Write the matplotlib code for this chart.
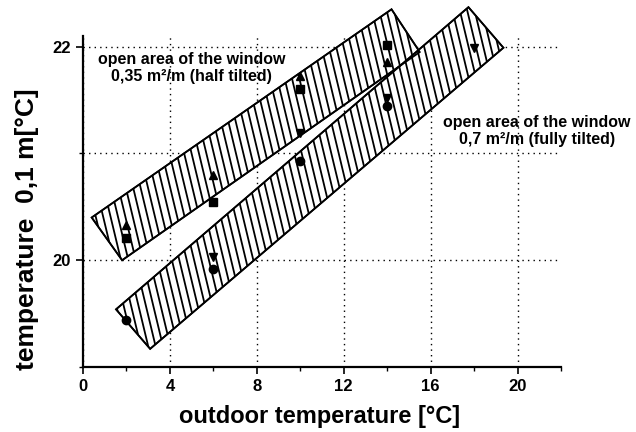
import numpy as np
import matplotlib
matplotlib.use("Agg")
import matplotlib.pyplot as plt
from matplotlib.patches import Polygon
from matplotlib.lines import Line2D
from matplotlib.ticker import MultipleLocator
from matplotlib.transforms import IdentityTransform

plt.rcParams['font.family'] = ['Liberation Sans', 'DejaVu Sans']
plt.rcParams['font.weight'] = 'bold'

# data
x_half = [2, 6, 10, 14]
half_square = [20.21, 20.55, 21.60, 22.02]
half_triangle = [20.33, 20.80, 21.73, 21.86]
x_full_circle = [2, 6, 10, 14]
full_circle = [19.44, 19.92, 20.93, 21.44]
x_full_tri = [6, 10, 14, 18]
full_triangle_down = [20.03, 21.19, 21.52, 21.99]

band_half_x = [0.4, 1.8, 15.5, 14.2]
band_half_y = [20.40, 20.00, 21.95, 22.35]
band_full_x = [1.52, 3.09, 19.35, 17.74]
band_full_y = [19.54, 19.17, 21.99, 22.37]

x_ticks = [0, 4, 8, 12, 16, 20]
y_ticks = [20, 22]

fig = plt.figure(figsize=(6.36, 4.32), dpi=100)
ax = fig.add_axes([83/636, 1-367/432, (561-83)/636, (367-36)/432])
ax.set_xlim(0, 22)
ax.set_ylim(19.0, 22.1)

for s in ['top', 'right']:
    ax.spines[s].set_visible(False)
for s in ['left', 'bottom']:
    ax.spines[s].set_linewidth(1.6)

ax.set_xticks(x_ticks)
ax.set_yticks(y_ticks)
ax.xaxis.set_minor_locator(MultipleLocator(2))
ax.yaxis.set_minor_locator(MultipleLocator(1))
ax.tick_params(which='major', length=5, width=1.2, labelsize=12, direction='out')
ax.tick_params(which='minor', length=3, width=1.0, direction='out')
for lab in ax.get_xticklabels() + ax.get_yticklabels():
    lab.set_fontweight('bold')

ax.grid(True, which='major', axis='x', color='black', linestyle=(0, (1, 3)), linewidth=1.0)
ax.grid(True, which='both', axis='y', color='black', linestyle=(0, (1, 3)), linewidth=1.0)
ax.set_axisbelow(True)

fig.canvas.draw()

def hatched_band(xs, ys):
    poly = Polygon(np.column_stack([xs, ys]), closed=True, facecolor='white',
                   edgecolor='black', linewidth=1.2, clip_on=False, zorder=2)
    ax.add_patch(poly)
    disp = ax.transData.transform(np.column_stack([xs, ys]))
    ymin, ymax = disp[:, 1].min() - 5, disp[:, 1].max() + 5
    xmin, xmax = disp[:, 0].min() - 60, disp[:, 0].max() + 60
    slant = 0.24
    for c in np.arange(xmin, xmax, 7.4):
        ln = Line2D([c + slant * (ymax - ymin) / 2, c - slant * (ymax - ymin) / 2],
                    [ymin, ymax], transform=IdentityTransform(), color='black',
                    linewidth=1.3, zorder=2.5)
        ln.set_clip_path(poly)
        fig.add_artist(ln)
    outline = Polygon(np.column_stack([xs, ys]), closed=True, facecolor='none',
                      edgecolor='black', linewidth=1.3, clip_on=False, zorder=3)
    ax.add_patch(outline)

hatched_band(band_half_x, band_half_y)
hatched_band(band_full_x, band_full_y)

ms = 6
ax.plot(x_half, half_square, 's', color='black', ms=ms - 0.5, zorder=5, clip_on=False)
ax.plot(x_half, half_triangle, '^', color='black', ms=ms, zorder=5, clip_on=False)
ax.plot(x_full_circle, full_circle, 'o', color='black', ms=ms, zorder=5, clip_on=False)
ax.plot(x_full_tri, full_triangle_down, 'v', color='black', ms=ms, zorder=5, clip_on=False)

ax.text(5.0, 21.80, "open area of the window\n0,35 m²/m (half tilted)", ha='center', va='center',
        fontsize=11.5, fontweight='bold', linespacing=1.15, zorder=6)
ax.text(20.9, 21.21, "open area of the window\n0,7 m²/m (fully tilted)", ha='center', va='center',
        fontsize=11.5, fontweight='bold', linespacing=1.15, zorder=6, clip_on=False)

fig.text(320/636, 1-416/432, "outdoor temperature [°C]", fontsize=17, fontweight='bold',
         ha='center', va='center')
fig.text(27/636, 1-229/432, "temperature  0,1 m[°C]", fontsize=19, fontweight='bold',
         ha='center', va='center', rotation=90)

fig.savefig("out.png", dpi=100)
